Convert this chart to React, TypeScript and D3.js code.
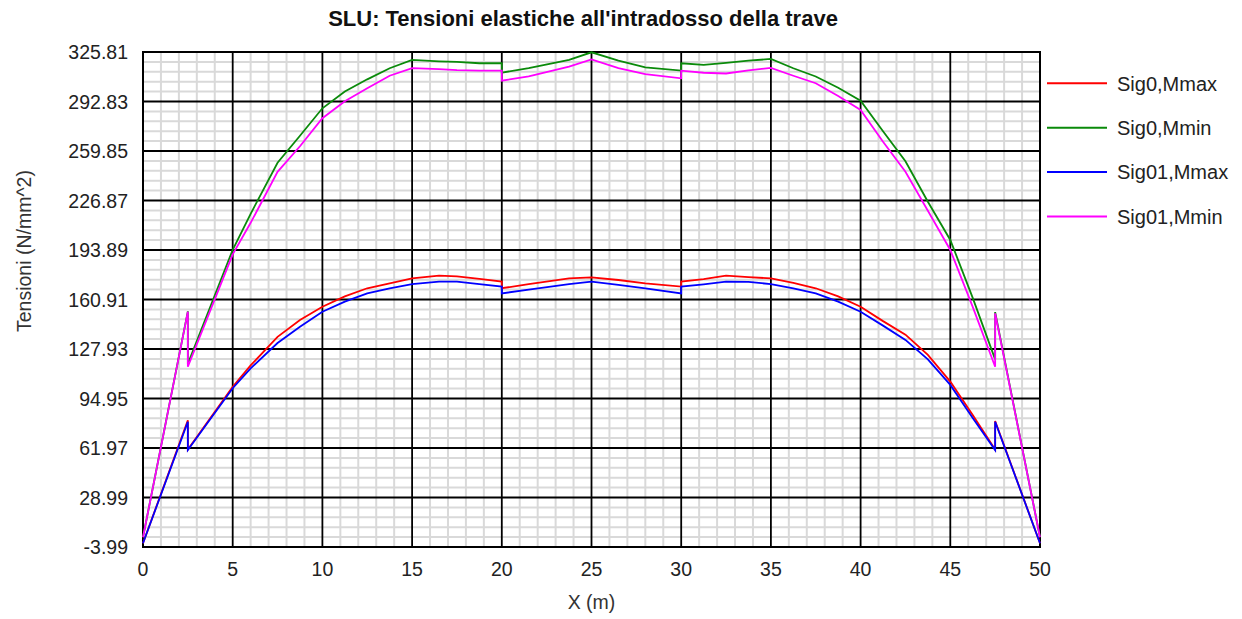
import React, { useEffect, useRef } from "react";
import * as d3 from "d3";

// X positions along the beam (m), shared by all four series
const xPos = [0, 2.5, 2.5, 5, 6, 7.5, 8.75, 10, 11.25, 12.5, 13.75, 15, 16.5, 17.5, 18.75, 20, 20, 21.5, 23.75, 25, 26.5, 28, 30, 30, 31.25, 32.5, 33.75, 35, 36.25, 37.5, 38.75, 40, 41.25, 42.5, 43.75, 45, 46.25, 47.5, 47.5, 50];

const sig0Mmax = [-1.5, 80.5, 61, 102.8, 117, 136, 147.3, 156.1, 163, 168.4, 171.7, 175.0, 176.8, 176.3, 174.6, 172.8, 168.4, 171.2, 175, 175.7, 173.9, 171.7, 169.5, 172.8, 174.5, 176.8, 175.8, 175, 172, 168.4, 163, 156.1, 146.5, 137.5, 124, 106.2, 84, 61, 80, -1.5];
const sig0Mmin = [2.5, 153, 118, 194, 218, 252, 270, 288.3, 299.5, 307.6, 315, 320.5, 319.6, 319.2, 318.3, 318.3, 312.1, 315, 320.5, 325.6, 320, 315.5, 313.4, 318.3, 317.2, 318.5, 320, 321.2, 315, 309.5, 302, 293.4, 273, 253, 226, 200.6, 162, 121, 152.5, 2.5];
const sig01Mmax = [-1.5, 79.5, 60.6, 101.8, 115, 131.9, 142.8, 152.8, 159.5, 165, 168.3, 171.2, 172.8, 172.8, 171.2, 169.5, 165, 167.5, 171.2, 172.8, 170.6, 168.3, 165, 169.5, 171, 172.8, 172.6, 171.2, 168.4, 165, 159.5, 152.8, 143.5, 134, 121, 104, 82, 60.6, 79.5, -1.5];
const sig01Mmin = [2.5, 152.8, 116.1, 191, 212, 246, 263, 281.7, 293, 301.6, 310, 315, 314.4, 313.8, 313.4, 313.4, 306.7, 309.5, 316, 320.9, 315, 311, 308.3, 313.4, 312, 311.5, 313.5, 315.2, 310, 305, 296.5, 287.2, 266, 246, 220, 193.9, 156, 116.1, 151.7, 2.5];

const seriesNames = ["Sig0,Mmax", "Sig0,Mmin", "Sig01,Mmax", "Sig01,Mmin"];
const seriesColors = ["#ff0000", "#0a8a0a", "#0000ff", "#ff00ff"];

const xTicks = [0, 5, 10, 15, 20, 25, 30, 35, 40, 45, 50];
const yTicks = [-3.99, 28.99, 61.97, 94.95, 127.93, 160.91, 193.89, 226.87, 259.85, 292.83, 325.81];

const W = 1242;
const H = 619;
const margin = { left: 143, right: 202, top: 52, bottom: 72 };
const FONT = "'Liberation Sans', Arial, Helvetica, sans-serif";

const App = () => {
  const svgRef = useRef(null);

  useEffect(() => {
    const svg = d3.select(svgRef.current);
    svg.selectAll("*").remove();

    const x = d3.scaleLinear().domain([0, 50]).range([margin.left, W - margin.right]);
    const y = d3.scaleLinear().domain([yTicks[0], yTicks[yTicks.length - 1]]).range([H - margin.bottom, margin.top]);

    const x0 = x(0), x1 = x(50), y0 = y(yTicks[0]), y1 = y(yTicks[yTicks.length - 1]);

    svg.append("rect").attr("width", W).attr("height", H).attr("fill", "#fff");

    // minor grid: 1 m in x, a fifth of the tick step in y
    const step = yTicks[1] - yTicks[0];
    const minorX = d3.range(0, 51, 1).filter((v) => v % 5 !== 0);
    const minorY = d3.range(0, 50).filter((i) => i % 5 !== 0).map((i) => yTicks[0] + (i * step) / 5);

    const grid = svg.append("g");
    grid.selectAll(".mx").data(minorX).join("line")
      .attr("x1", (d) => x(d)).attr("x2", (d) => x(d))
      .attr("y1", y0).attr("y2", y1)
      .attr("stroke", "#d9d9d9").attr("stroke-width", 2);
    grid.selectAll(".my").data(minorY).join("line")
      .attr("x1", x0).attr("x2", x1)
      .attr("y1", (d) => y(d)).attr("y2", (d) => y(d))
      .attr("stroke", "#d9d9d9").attr("stroke-width", 2);

    // major grid
    grid.selectAll(".Mx").data(xTicks).join("line")
      .attr("x1", (d) => x(d)).attr("x2", (d) => x(d))
      .attr("y1", y0).attr("y2", y1)
      .attr("stroke", "#000").attr("stroke-width", 1.8);
    grid.selectAll(".My").data(yTicks).join("line")
      .attr("x1", x0).attr("x2", x1)
      .attr("y1", (d) => y(d)).attr("y2", (d) => y(d))
      .attr("stroke", "#000").attr("stroke-width", 1.8);

    svg.append("rect")
      .attr("x", x0).attr("y", y1)
      .attr("width", x1 - x0).attr("height", y0 - y1)
      .attr("fill", "none").attr("stroke", "#000").attr("stroke-width", 2);

    // series
    const allSeries = [sig0Mmax, sig0Mmin, sig01Mmax, sig01Mmin];
    const line = d3.line()
      .x((d) => x(d[0]))
      .y((d) => y(d[1]));

    allSeries.forEach((vals, i) => {
      const pts = xPos.map((xv, j) => [xv, vals[j]]);
      svg.append("path")
        .datum(pts)
        .attr("d", line)
        .attr("fill", "none")
        .attr("stroke", seriesColors[i])
        .attr("stroke-width", 1.8)
        .attr("stroke-linejoin", "miter");
    });

    // tick labels
    svg.append("g").selectAll("text").data(yTicks).join("text")
      .attr("x", 128).attr("y", (d) => y(d))
      .attr("dy", "0.36em")
      .attr("text-anchor", "end")
      .attr("font-family", FONT).attr("font-size", 19.5)
      .attr("fill", "#222")
      .text((d) => d.toFixed(2));

    svg.append("g").selectAll("text").data(xTicks).join("text")
      .attr("x", (d) => x(d)).attr("y", 576)
      .attr("text-anchor", "middle")
      .attr("font-family", FONT).attr("font-size", 19.5)
      .attr("fill", "#222")
      .text((d) => d);

    // titles
    svg.append("text")
      .attr("x", 583).attr("y", 26)
      .attr("text-anchor", "middle")
      .attr("font-family", FONT).attr("font-size", 22).attr("font-weight", "bold")
      .attr("fill", "#111")
      .text("SLU: Tensioni elastiche all'intradosso della trave");

    svg.append("text")
      .attr("x", (x0 + x1) / 2).attr("y", 609)
      .attr("text-anchor", "middle")
      .attr("font-family", FONT).attr("font-size", 19.5)
      .attr("fill", "#333")
      .text("X (m)");

    svg.append("text")
      .attr("transform", "translate(31,332) rotate(-90)")
      .attr("text-anchor", "start")
      .attr("font-family", FONT).attr("font-size", 19.5)
      .attr("fill", "#333")
      .text("Tensioni (N/mm^2)");

    // legend
    const legend = svg.append("g");
    seriesNames.forEach((name, i) => {
      const ly = 83.3 + i * 44.4;
      legend.append("line")
        .attr("x1", 1047).attr("x2", 1107)
        .attr("y1", ly).attr("y2", ly)
        .attr("stroke", seriesColors[i]).attr("stroke-width", 2);
      legend.append("text")
        .attr("x", 1117).attr("y", ly)
        .attr("dy", "0.36em")
        .attr("font-family", FONT).attr("font-size", 20)
        .attr("fill", "#222")
        .text(name);
    });
  }, []);

  return (
    <svg
      ref={svgRef}
      width={W}
      height={H}
      style={{ position: "absolute", left: 0, top: 0 }}
    ></svg>
  );
};

export default App;
